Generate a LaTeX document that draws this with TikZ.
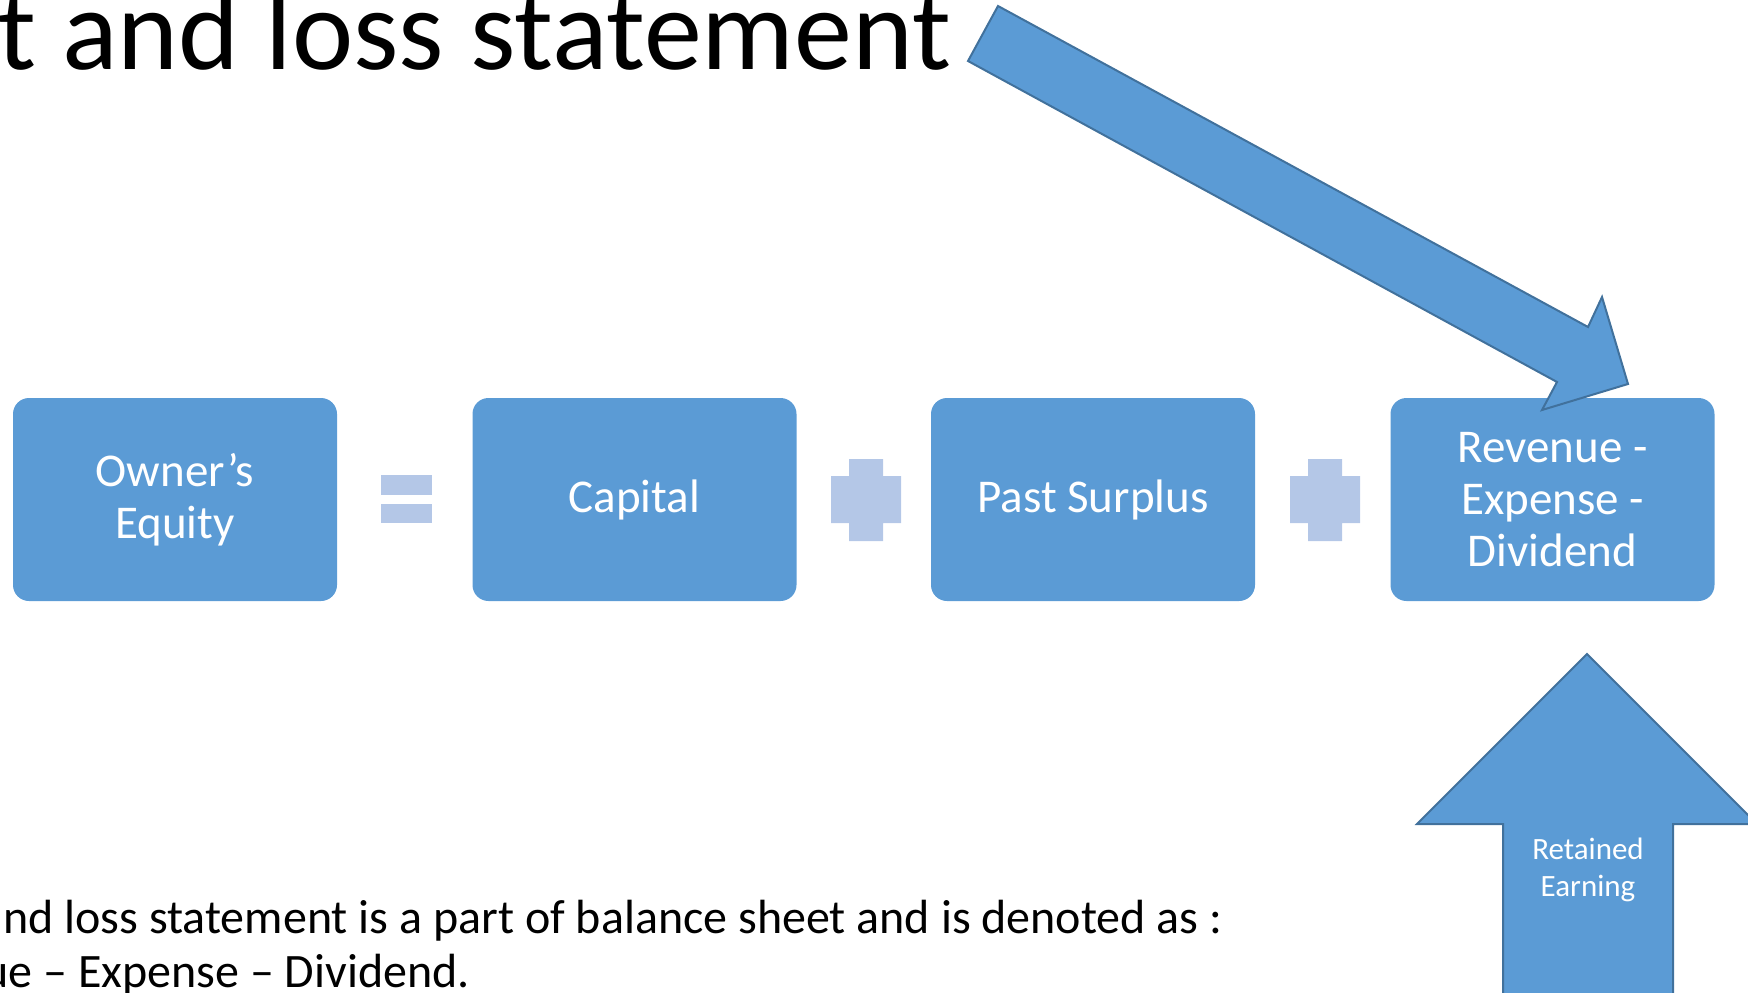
\documentclass[tikz,border=0pt]{standalone}
\usepackage{fontspec}
\setmainfont{Carlito}
\definecolor{boxblue}{HTML}{5B9BD5}
\definecolor{edgeblue}{HTML}{41719C}
\definecolor{signblue}{HTML}{B4C7E7}
\tikzset{
  termbox/.style={rectangle, rounded corners=16pt, fill=boxblue, text=white,
    minimum width=324pt, minimum height=203pt, align=center, inner sep=0pt,
    font=\fontsize{47}{52}\selectfont},
  sign/.style={fill=signblue, draw=none},
  blockarrow/.style={fill=boxblue, draw=edgeblue, line width=2pt, line join=miter},
  bodytext/.style={inner sep=0pt, font=\fontsize{48}{54}\selectfont}
}
\begin{document}
\begin{tikzpicture}[x=1pt, y=-1pt]
\useasboundingbox (0,0) rectangle (1748,993);
\clip (0,0) rectangle (1748,993);

% title line
\node[anchor=base west, inner sep=0pt, font=\fontsize{116}{122}\selectfont] (title) at (-3,69) {t and loss statement};

% equation boxes
\node[termbox] (equity)  at (175,499.5)   {Owner’s\\Equity};
\node[termbox] (capital) at (634.5,499.5) {Capital};
\node[termbox] (surplus) at (1093,499.5)  {Past Surplus};
\node[termbox] (current) at (1552.5,499.5) {Revenue -\\Expense -\\Dividend};

% equals sign
\fill[sign] (381,475) rectangle (432,495);
\fill[sign] (381,504) rectangle (432,523);

% plus signs
\foreach \cx in {866,1325} {
  \fill[sign] (\cx-17,459) -- (\cx+17,459) -- (\cx+17,476) -- (\cx+35,476)
    -- (\cx+35,523) -- (\cx+17,523) -- (\cx+17,541) -- (\cx-17,541)
    -- (\cx-17,523) -- (\cx-35,523) -- (\cx-35,476) -- (\cx-17,476) -- cycle;
}

% diagonal block arrow into the last box
\draw[blockarrow] (998,6) -- (1588,327) -- (1602,297) -- (1628,384)
  -- (1542,410) -- (1557,382) -- (968,61) -- cycle;

% upward block arrow
\draw[blockarrow] (1587,654) -- (1757,824) -- (1673,824) -- (1673,1010)
  -- (1503,1010) -- (1503,824) -- (1417,824) -- cycle;
\node[align=center, text=white, inner sep=0pt, font=\fontsize{31}{37}\selectfont] (retained) at (1588,870) {Retained\\Earning};

% body text
\node[bodytext, anchor=base west] (body1) at (3,933) {nd loss statement is a part of balance sheet and is denoted as :};
\node[bodytext, anchor=base east] (body2) at (470,987) {ue – Expense – Dividend.};
\end{tikzpicture}
\end{document}
